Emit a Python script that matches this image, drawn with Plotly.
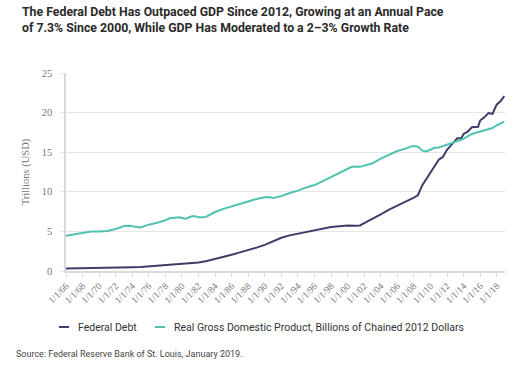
import plotly.graph_objects as go

# ---------------- data ----------------
debt_dates = [
    "1966-01-01", "1967-01-01", "1968-01-01", "1969-01-01", "1970-01-01", "1971-01-01",
    "1972-01-01", "1973-01-01", "1974-01-01", "1975-01-01", "1976-01-01", "1977-01-01",
    "1978-01-01", "1979-01-01", "1980-01-01", "1981-01-01", "1982-01-01", "1983-01-01",
    "1984-01-01", "1985-01-01", "1986-01-01", "1987-01-01", "1988-01-01", "1989-01-01",
    "1990-01-01", "1991-01-01", "1992-01-01", "1993-01-01", "1994-01-01", "1995-01-01",
    "1996-01-01", "1997-01-01", "1998-01-01", "1999-01-01", "2000-01-01", "2001-01-01",
    "2001-07-01", "2002-01-01", "2003-01-01", "2004-01-01", "2005-01-01", "2006-01-01",
    "2007-01-01", "2008-01-01", "2008-07-01", "2009-01-01", "2009-07-01", "2010-01-01",
    "2010-07-01", "2011-01-01", "2011-07-01", "2012-01-01", "2012-07-01", "2013-01-01",
    "2013-04-01", "2013-07-01", "2013-10-01", "2014-01-01", "2014-07-01", "2015-01-01",
    "2015-04-01", "2015-10-01", "2016-01-01", "2016-07-01", "2017-01-01", "2017-04-01",
    "2017-07-01", "2017-10-01", "2018-01-01", "2018-07-01", "2018-10-01", "2018-12-01",
]
debt_values = [
    0.32, 0.33, 0.35, 0.36, 0.37, 0.40,
    0.43, 0.46, 0.47, 0.51, 0.60, 0.68,
    0.76, 0.82, 0.87, 0.96, 1.07, 1.26,
    1.50, 1.76, 2.05, 2.35, 2.62, 2.95,
    3.30, 3.75, 4.20, 4.50, 4.72, 4.95,
    5.20, 5.40, 5.55, 5.65, 5.75, 5.70,
    5.75, 6.05, 6.55, 7.15, 7.75, 8.30,
    8.75, 9.25, 9.60, 10.80, 11.60, 12.45,
    13.30, 14.05, 14.40, 15.30, 15.90, 16.45,
    16.75, 16.75, 16.80, 17.30, 17.60, 18.15,
    18.15, 18.20, 19.00, 19.40, 19.95, 19.85,
    19.85, 20.45, 21.00, 21.50, 21.80, 22.10,
]

gdp_dates = [
    "1966-01-01", "1967-01-01", "1968-01-01", "1969-01-01", "1970-01-01", "1971-01-01",
    "1972-01-01", "1973-01-01", "1973-10-01", "1974-01-01", "1975-01-01", "1976-01-01",
    "1977-01-01", "1978-01-01", "1978-07-01", "1979-01-01", "1979-10-01", "1980-04-01",
    "1980-07-01", "1981-01-01", "1981-07-01", "1982-01-01", "1982-10-01", "1983-01-01",
    "1984-01-01", "1985-01-01", "1986-01-01", "1987-01-01", "1988-01-01", "1989-01-01",
    "1990-01-01", "1990-07-01", "1991-01-01", "1992-01-01", "1993-01-01", "1994-01-01",
    "1995-01-01", "1996-01-01", "1997-01-01", "1998-01-01", "1999-01-01", "2000-01-01",
    "2000-07-01", "2001-01-01", "2001-07-01", "2002-01-01", "2003-01-01", "2004-01-01",
    "2005-01-01", "2006-01-01", "2007-01-01", "2007-10-01", "2008-04-01", "2008-07-01",
    "2008-10-01", "2009-01-01", "2009-07-01", "2010-01-01", "2010-07-01", "2011-01-01",
    "2011-07-01", "2012-01-01", "2012-07-01", "2013-01-01", "2013-07-01", "2014-01-01",
    "2014-07-01", "2015-01-01", "2015-07-01", "2016-01-01", "2016-07-01", "2017-01-01",
    "2017-07-01", "2018-01-01", "2018-07-01", "2018-12-01",
]
gdp_values = [
    4.45, 4.65, 4.80, 5.00, 4.98, 5.05,
    5.30, 5.68, 5.72, 5.65, 5.50, 5.85,
    6.10, 6.40, 6.65, 6.72, 6.78, 6.62,
    6.60, 6.85, 6.95, 6.80, 6.80, 6.90,
    7.45, 7.85, 8.15, 8.40, 8.75, 9.10,
    9.30, 9.35, 9.22, 9.45, 9.85, 10.15,
    10.55, 10.85, 11.35, 11.85, 12.45, 12.95,
    13.15, 13.20, 13.15, 13.30, 13.60, 14.20,
    14.65, 15.15, 15.45, 15.75, 15.75, 15.70,
    15.45, 15.20, 15.10, 15.30, 15.55, 15.60,
    15.75, 16.00, 16.15, 16.30, 16.50, 16.70,
    17.00, 17.30, 17.45, 17.60, 17.75, 17.90,
    18.05, 18.40, 18.65, 18.85,
]

tick_dates = [
    "1966-01-01", "1968-01-01", "1970-01-01", "1972-01-01", "1974-01-01", "1976-01-01",
    "1978-01-01", "1980-01-01", "1982-01-01", "1984-01-01", "1986-01-01", "1988-01-01",
    "1990-01-01", "1992-01-01", "1994-01-01", "1996-01-01", "1998-01-01", "2000-01-01",
    "2002-01-01", "2004-01-01", "2006-01-01", "2008-01-01", "2010-01-01", "2012-01-01",
    "2014-01-01", "2016-01-01", "2018-01-01",
]
tick_labels = [
    "1/1/66", "1/1/68", "1/1/70", "1/1/72", "1/1/74", "1/1/76",
    "1/1/78", "1/1/80", "1/1/82", "1/1/84", "1/1/86", "1/1/88",
    "1/1/90", "1/1/92", "1/1/94", "1/1/96", "1/1/98", "1/1/00",
    "1/1/02", "1/1/04", "1/1/06", "1/1/08", "1/1/10", "1/1/12",
    "1/1/14", "1/1/16", "1/1/18",
]

series_names = [
    "Federal Debt",
    "Real Gross Domestic Product, Billions of Chained 2012 Dollars",
]

title_text = ("The Federal Debt Has Outpaced GDP Since 2012, Growing at an Annual Pace<br>"
              "of 7.3% Since 2000, While GDP Has Moderated to a 2–3% Growth Rate")
source_text = "Source: Federal Reserve Bank of St. Louis, January 2019."

# ---------------- figure ----------------
DEBT_COLOR = "#403c6a"
GDP_COLOR = "#50c2b1"
SANS = "Roboto, Liberation Sans, sans-serif"
SERIF = "Liberation Serif, Times New Roman, serif"

W, H = 522, 365
ML, MR, MT, MB = 66, 17, 73, 94
PW, PH = W - ML - MR, H - MT - MB


def px_x(px):
    return (px - ML) / PW


def px_y(py):
    return (H - MB - py) / PH


colors = [DEBT_COLOR, GDP_COLOR]
fig = go.Figure()
for name, xs, ys, c in zip(series_names, [debt_dates, gdp_dates], [debt_values, gdp_values], colors):
    fig.add_trace(go.Scatter(x=xs, y=ys, mode="lines", name=name,
                             line=dict(color=c, width=2), showlegend=False))

# legend drawn as short dashes + labels (like the reference)
legend_y = 327
dash_x = [(59, 69), (155, 165)]
label_x = [76, 172]
shapes = []
annotations = []
for (x0, x1), lx, name, c in zip(dash_x, label_x, series_names, colors):
    shapes.append(dict(type="line", xref="paper", yref="paper",
                       x0=px_x(x0), x1=px_x(x1), y0=px_y(legend_y), y1=px_y(legend_y),
                       line=dict(color=c, width=2)))
    annotations.append(dict(text=name, xref="paper", yref="paper",
                            x=px_x(lx), y=px_y(legend_y), xanchor="left", yanchor="middle",
                            showarrow=False,
                            font=dict(family=SANS, size=10.5, color="#333333")))

annotations.append(dict(text=source_text, xref="paper", yref="paper",
                        x=px_x(14), y=px_y(354), xanchor="left", yanchor="middle",
                        showarrow=False, font=dict(family=SANS, size=9, color="#444444")))

fig.update_layout(
    width=W, height=H,
    margin=dict(l=ML, r=MR, t=MT, b=MB, autoexpand=False),
    paper_bgcolor="white", plot_bgcolor="white",
    title=dict(text=title_text, x=22 / W, xanchor="left", xref="container",
               y=1 - 16 / H, yanchor="top", yref="container",
               font=dict(family=SANS, size=12.3, color="#2a2a2a", weight="bold")),
    showlegend=False,
    shapes=shapes,
    annotations=annotations,
)

fig.update_xaxes(
    type="date", range=["1966-01-01", "2019-01-01"], automargin=False,
    tickmode="array", tickvals=tick_dates, ticktext=tick_labels, tickangle=-45,
    tickfont=dict(family=SERIF, size=9.5, color="#777777"),
    showgrid=False, showline=True, linecolor="#dadada", linewidth=1.5,
    ticks="outside", ticklen=4, tickcolor="#dadada", zeroline=False,
)
fig.update_yaxes(
    range=[0, 25], dtick=5, tick0=0, automargin=False,
    tickfont=dict(family=SERIF, size=10.5, color="#777777"),
    title=dict(text="Trillions (USD)", font=dict(family=SERIF, size=10.5, color="#777777"),
               standoff=10),
    showgrid=True, gridcolor="#e6e6e6", gridwidth=1,
    showline=True, linecolor="#dadada", linewidth=1.5,
    ticks="outside", ticklen=4, tickcolor="#e6e6e6", ticklabelstandoff=6,
    zeroline=False,
)

fig.write_html("out.html",
               config={"displayModeBar": False},
               post_script="document.body.style.margin='0px';document.body.style.padding='0px';")
